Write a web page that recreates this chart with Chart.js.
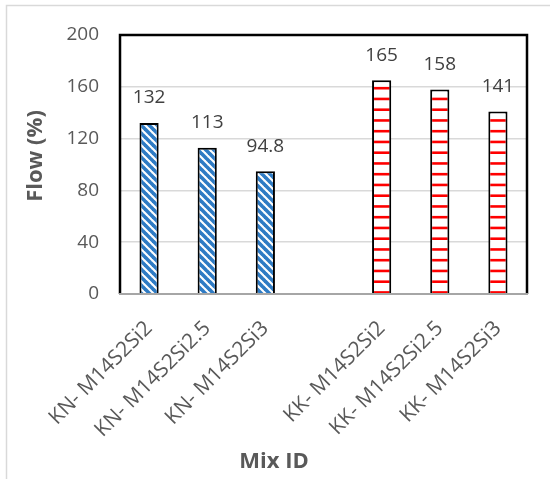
<!DOCTYPE html>
<html>
<head>
<meta charset="utf-8">
<script src="https://cdn.jsdelivr.net/npm/chart.js@4.4.1/dist/chart.umd.min.js"></script>
<style>
  html, body { margin: 0; padding: 0; background: #ffffff; }
  #wrap { width: 550px; height: 479px; }
</style>
</head>
<body>
<div id="wrap"><canvas id="flowChart" width="550" height="479"></canvas></div>
<script>
// Mix designs along the x axis (blank slot separates the two groups)
const mixIds = ['KN- M14S2Si2', 'KN- M14S2Si2.5', 'KN- M14S2Si3', '', 'KK- M14S2Si2', 'KK- M14S2Si2.5', 'KK- M14S2Si3'];
// Flow values (%) for each group
const knFlow = [132, 113, 94.8, null, null, null, null];
const kkFlow = [null, null, null, null, 165, 158, 141];
// Value axis ticks
const flowTicks = [0, 40, 80, 120, 160, 200];

const FONT = '"Open Sans", "Liberation Sans", sans-serif';

// Blue "\" diagonal stripes on white
function bluePattern(ctx) {
  const p = 8;
  const c = document.createElement('canvas');
  c.width = p; c.height = p;
  const g = c.getContext('2d');
  g.fillStyle = '#ffffff';
  g.fillRect(0, 0, p, p);
  g.strokeStyle = '#2E7BC4';
  g.lineWidth = 3.6;
  for (let k = -1; k <= 1; k++) {
    g.beginPath();
    g.moveTo(k * p - 1, -1);
    g.lineTo(k * p + p + 1, p + 1);
    g.stroke();
  }
  return ctx.createPattern(c, 'repeat');
}

// Red horizontal stripes on white
function redPattern(ctx) {
  const w = 8, h = 43;
  const c = document.createElement('canvas');
  c.width = w; c.height = h;
  const g = c.getContext('2d');
  g.fillStyle = '#ffffff';
  g.fillRect(0, 0, w, h);
  g.strokeStyle = '#FF0000';
  g.lineWidth = 2.6;
  [2.2, 12.95, 23.7, 34.45].forEach(y => {
    g.beginPath();
    g.moveTo(0, y);
    g.lineTo(w, y);
    g.stroke();
  });
  return ctx.createPattern(c, 'repeat');
}

// Thin outer frame of the whole graphic
const outerFrame = {
  id: 'outerFrame',
  beforeDraw(chart) {
    const ctx = chart.ctx;
    ctx.save();
    ctx.strokeStyle = '#D9D9D9';
    ctx.lineWidth = 1.5;
    ctx.beginPath();
    ctx.moveTo(6.5, chart.height);
    ctx.lineTo(6.5, 5.5);
    ctx.lineTo(chart.width, 5.5);
    ctx.stroke();
    ctx.restore();
  }
};

// Plot-area box: black top/left/right, grey category axis line
const plotFrame = {
  id: 'plotFrame',
  afterDatasetsDraw(chart) {
    const { left, right, top, bottom } = chart.chartArea;
    const ctx = chart.ctx;
    ctx.save();
    ctx.strokeStyle = '#000000';
    ctx.lineWidth = 2.5;
    ctx.lineJoin = 'miter';
    ctx.beginPath();
    ctx.moveTo(left, bottom);
    ctx.lineTo(left, top);
    ctx.lineTo(right, top);
    ctx.lineTo(right, bottom);
    ctx.stroke();
    ctx.strokeStyle = '#A6A6A6';
    ctx.lineWidth = 2;
    ctx.beginPath();
    ctx.moveTo(left - 1, bottom);
    ctx.lineTo(right + 1, bottom);
    ctx.stroke();
    ctx.restore();
  }
};

// Value labels above each bar
const valueLabels = {
  id: 'valueLabels',
  afterDatasetsDraw(chart) {
    const ctx = chart.ctx;
    ctx.save();
    ctx.font = '19px ' + FONT;
    ctx.fillStyle = '#404040';
    ctx.textAlign = 'center';
    ctx.textBaseline = 'middle';
    chart.data.datasets.forEach((ds, i) => {
      chart.getDatasetMeta(i).data.forEach((bar, j) => {
        const v = ds.data[j];
        if (v === null || v === undefined) return;
        ctx.fillText(String(v), bar.x, bar.y - 25);
      });
    });
    ctx.restore();
  }
};

// Axis titles
const axisTitles = {
  id: 'axisTitles',
  afterDraw(chart) {
    const ctx = chart.ctx;
    ctx.save();
    ctx.fillStyle = '#595959';
    ctx.textAlign = 'center';
    ctx.textBaseline = 'middle';
    ctx.font = 'bold 22px ' + FONT;
    ctx.fillText('Mix ID', 274, 462);
    ctx.translate(36, 156);
    ctx.rotate(-Math.PI / 2);
    ctx.font = 'bold 22px ' + FONT;
    ctx.fillText('Flow (%)', 0, 0);
    ctx.restore();
  }
};

const canvas = document.getElementById('flowChart');
const ctx = canvas.getContext('2d');

new Chart(ctx, {
  type: 'bar',
  data: {
    labels: mixIds,
    datasets: [
      {
        label: 'KN',
        data: knFlow,
        backgroundColor: bluePattern(ctx),
        borderColor: '#000000',
        borderWidth: 2,
        grouped: false,
        barPercentage: 0.33,
        categoryPercentage: 1
      },
      {
        label: 'KK',
        data: kkFlow,
        backgroundColor: redPattern(ctx),
        borderColor: '#000000',
        borderWidth: 2,
        grouped: false,
        barPercentage: 0.33,
        categoryPercentage: 1
      }
    ]
  },
  options: {
    responsive: false,
    animation: false,
    devicePixelRatio: 1,
    layout: { padding: { top: 35, right: 23, left: 0, bottom: 0 } },
    plugins: {
      legend: { display: false },
      tooltip: { enabled: false },
      title: { display: false }
    },
    scales: {
      x: {
        type: 'category',
        grid: { display: false, drawTicks: false },
        border: { display: false },
        ticks: {
          autoSkip: false,
          maxRotation: 45,
          minRotation: 45,
          padding: 22,
          color: '#595959',
          font: { family: FONT, size: 21 }
        },
        afterFit(scale) { scale.height = 185; }
      },
      y: {
        min: flowTicks[0],
        max: flowTicks[flowTicks.length - 1],
        afterBuildTicks(scale) { scale.ticks = flowTicks.map(v => ({ value: v })); },
        grid: {
          drawTicks: false,
          lineWidth: 1.5,
          color: (c) => (c.tick && (c.tick.value === 0 || c.tick.value === 200)) ? 'rgba(0,0,0,0)' : '#D9D9D9'
        },
        border: { display: false },
        ticks: {
          padding: 21,
          color: '#595959',
          font: { family: FONT, size: 19 }
        },
        afterFit(scale) { scale.width = 120; }
      }
    }
  },
  plugins: [outerFrame, plotFrame, valueLabels, axisTitles]
});
</script>
</body>
</html>
